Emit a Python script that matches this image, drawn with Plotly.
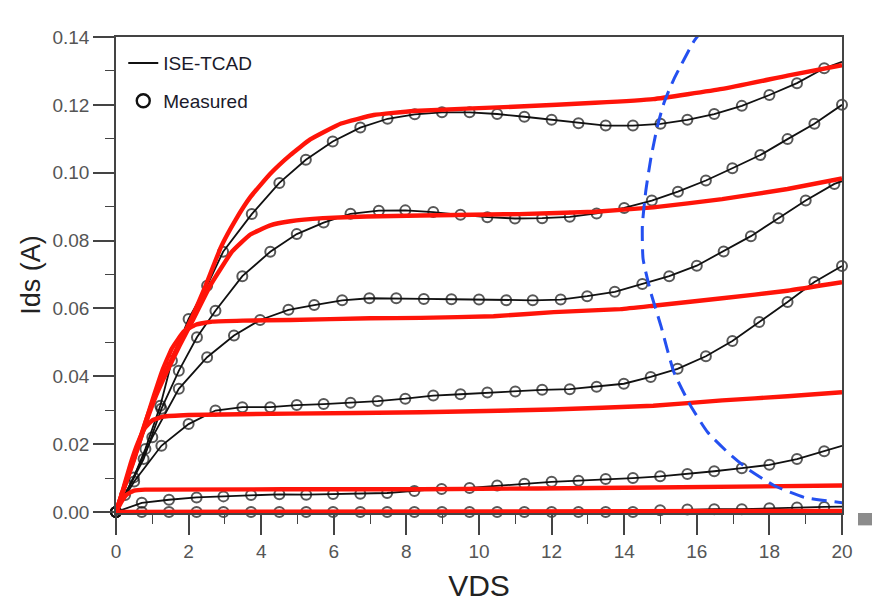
import plotly.graph_objects as go

# ---------------- data ----------------
# Measured / ISE-TCAD curves (black line + open circles)
m1_x = [0, 0.49, 0.81, 1.22, 1.54, 2.0, 2.51, 2.95, 3.74, 4.5, 5.23, 5.97, 6.73, 7.48, 8.23,
        8.98, 9.74, 10.5, 11.25, 12.0, 12.74, 13.49, 14.24, 15.0, 15.74, 16.48, 17.24, 18.0,
        18.76, 19.51, 20.0]
m1_y = [0, 0.0102, 0.0186, 0.0313, 0.0446, 0.0569, 0.0667, 0.0767, 0.0878, 0.097, 0.1038,
        0.1092, 0.1133, 0.1159, 0.1172, 0.1178, 0.1178, 0.1173, 0.1165, 0.1156, 0.1146, 0.1139,
        0.1139, 0.1144, 0.1156, 0.1173, 0.1197, 0.1229, 0.1264, 0.1308, 0.1327]

m2_x = [0, 0.76, 1.25, 1.73, 2.23, 2.74, 3.48, 4.25, 4.98, 5.72, 6.46, 7.24, 7.97, 8.74, 9.49,
        10.23, 10.99, 11.74, 12.5, 13.24, 14.0, 14.76, 15.48, 16.25, 16.98, 17.75, 18.5, 19.24, 20.0]
m2_y = [0, 0.0156, 0.0304, 0.0416, 0.0515, 0.0593, 0.0695, 0.0767, 0.0819, 0.0853, 0.0879,
        0.0888, 0.0889, 0.0884, 0.0876, 0.0869, 0.0865, 0.0866, 0.087, 0.088, 0.0896, 0.0918,
        0.0944, 0.0977, 0.1013, 0.1052, 0.1099, 0.1144, 0.1200]

m3_x = [0, 0.25, 1.0, 1.73, 2.51, 3.25, 3.97, 4.75, 5.46, 6.23, 6.98, 7.72, 8.48, 9.24, 10.0,
        10.75, 11.48, 12.25, 12.98, 13.74, 14.5, 15.24, 16.0, 16.74, 17.49, 18.25, 19.0, 19.79, 20.0]
m3_y = [0, 0.005, 0.022, 0.0363, 0.0456, 0.052, 0.0566, 0.0596, 0.061, 0.0624, 0.063, 0.063,
        0.0628, 0.0627, 0.0626, 0.0624, 0.0624, 0.0626, 0.0636, 0.0649, 0.0672, 0.0695, 0.0726,
        0.0768, 0.0813, 0.0866, 0.0918, 0.0967, 0.0975]

m4_x = [0, 0.5, 1.25, 2.0, 2.74, 3.48, 4.25, 4.98, 5.72, 6.46, 7.21, 7.97, 8.74, 9.49, 10.23,
        11.0, 11.74, 12.5, 13.24, 13.99, 14.73, 15.47, 16.25, 16.98, 17.72, 18.5, 19.24, 20.0]
m4_y = [0, 0.009, 0.0195, 0.0259, 0.0299, 0.0309, 0.0309, 0.0315, 0.0318, 0.0322, 0.0327,
        0.0334, 0.0343, 0.0347, 0.0352, 0.0355, 0.036, 0.0362, 0.0369, 0.0378, 0.0398, 0.0422,
        0.0459, 0.0504, 0.056, 0.0619, 0.0678, 0.0725]

m5_x = [0, 0.71, 1.46, 2.22, 2.96, 3.72, 4.5, 5.24, 5.98, 6.73, 7.47, 8.22, 8.97, 9.74, 10.5,
        11.25, 12.0, 12.74, 13.49, 14.24, 14.99, 15.74, 16.48, 17.24, 18.0, 18.76, 19.51, 20.0]
m5_y = [0, 0.0027, 0.0036, 0.0043, 0.0046, 0.005, 0.0052, 0.0051, 0.0053, 0.0054, 0.0056,
        0.0062, 0.0068, 0.0071, 0.0078, 0.0083, 0.0089, 0.0092, 0.0097, 0.01, 0.0105, 0.0112,
        0.012, 0.0129, 0.0139, 0.0156, 0.0179, 0.0195]

m6_x = [0, 0.71, 1.46, 2.22, 2.96, 3.72, 4.5, 5.24, 5.98, 6.73, 7.47, 8.22, 8.98, 9.74, 10.5,
        11.25, 12.0, 12.74, 13.49, 14.24, 14.99, 15.74, 16.48, 17.24, 18.0, 18.76, 19.51, 20.0]
m6_y = [0, 0, 0, 0, 0, 0, 0, 0, 0, 0, 0, 0, 0, 0, 0, 0, 0, 0, 0, 0, 0.0005, 0.0007, 0.0008,
        0.0008, 0.0011, 0.0013, 0.0015, 0.0016]

# red curves
r1_x = [0, 0.25, 0.5, 0.8, 1.1, 1.4, 1.75, 2.1, 2.45, 2.9, 3.3, 3.7, 4.25, 4.8, 5.35, 6.2, 7.1,
        8.2, 11.1, 13.2, 14.8, 16.7, 18.5, 20.0]
r1_y = [0, 0.0082, 0.0162, 0.0262, 0.0348, 0.042, 0.0498, 0.0575, 0.0662, 0.0783, 0.0862,
        0.0928, 0.0997, 0.1052, 0.1098, 0.1145, 0.1170, 0.1182, 0.1195, 0.1206, 0.1217, 0.1247,
        0.1286, 0.1317]

r2_x = [0, 0.25, 0.5, 0.8, 1.1, 1.4, 1.75, 2.1, 2.6, 3.2, 3.7, 4.25, 4.8, 5.7, 6.9, 8.4, 10.3,
        11.1, 13.2, 14.8, 16.7, 18.5, 20.0]
r2_y = [0, 0.008, 0.0158, 0.0255, 0.0342, 0.0413, 0.049, 0.0562, 0.0668, 0.0768, 0.0818, 0.0845,
        0.0857, 0.0866, 0.0871, 0.0874, 0.0877, 0.0878, 0.0885, 0.0898, 0.0922, 0.0952, 0.0983]

r3_x = [0, 0.25, 0.5, 0.8, 1.05, 1.27, 1.54, 1.87, 2.2, 2.65, 3.5, 4.8, 7.0, 8.4, 10.4, 12.06,
        13.9, 14.8, 16.7, 18.5, 20.0]
r3_y = [0, 0.0078, 0.0155, 0.026, 0.0345, 0.0415, 0.0482, 0.0532, 0.0552, 0.0561, 0.0564, 0.0566,
        0.0571, 0.0572, 0.0577, 0.0589, 0.0598, 0.0608, 0.063, 0.0652, 0.0677]

r4_x = [0, 0.2, 0.4, 0.6, 0.8, 1.0, 1.3, 2.0, 4.8, 8.4, 12.0, 14.8, 16.7, 18.5, 20.0]
r4_y = [0, 0.0068, 0.0142, 0.0203, 0.0248, 0.027, 0.0281, 0.0286, 0.029, 0.0294, 0.0302,
        0.0313, 0.0329, 0.0341, 0.0353]

r5_x = [0, 0.15, 0.3, 0.5, 0.8, 8.4, 14.8, 20.0]
r5_y = [0, 0.003, 0.0052, 0.0063, 0.0066, 0.0067, 0.0072, 0.0078]

r6_x = [0, 20.0]
r6_y = [0, 0.0003]

# blue dashed boundary
b_x = [16.14, 15.93, 15.37, 15.10, 14.92, 14.73, 14.59, 14.50, 14.52, 14.73, 15.01, 15.37,
       15.83, 16.30, 16.85, 17.40, 18.13, 18.96, 20.25]
b_y = [0.1418, 0.1389, 0.1276, 0.1207, 0.1139, 0.104, 0.0942, 0.0844, 0.0746, 0.0648, 0.0549,
       0.0412, 0.0313, 0.0235, 0.0176, 0.0127, 0.0078, 0.0043, 0.0024]

x_ticks = [0, 2, 4, 6, 8, 10, 12, 14, 16, 18, 20]
y_ticks = [0.00, 0.02, 0.04, 0.06, 0.08, 0.10, 0.12, 0.14]
y_tick_text = ["0.00", "0.02", "0.04", "0.06", "0.08", "0.10", "0.12", "0.14"]

legend_line_name = "ISE-TCAD"
legend_marker_name = "Measured"

# ---------------- figure ----------------
fig = go.Figure()

measured = [(m1_x, m1_y, False), (m2_x, m2_y, True), (m3_x, m3_y, False),
            (m4_x, m4_y, True), (m5_x, m5_y, False), (m6_x, m6_y, False)]
for mx, my, end_circle in measured:
    sizes = [10] * len(mx)
    if not end_circle:
        sizes[-1] = 0
    fig.add_trace(go.Scatter(
        x=mx, y=my, mode="lines+markers", showlegend=False, cliponaxis=False,
        line=dict(color="#111111", width=1.8),
        marker=dict(symbol="circle-open", size=sizes, color="#111111",
                    line=dict(width=2.0, color="#111111")),
        hoverinfo="skip"))

red = [(r1_x, r1_y), (r2_x, r2_y), (r3_x, r3_y), (r4_x, r4_y), (r5_x, r5_y), (r6_x, r6_y)]
for rx, ry in red:
    fig.add_trace(go.Scatter(
        x=rx, y=ry, mode="lines", showlegend=False,
        line=dict(color="#ff1409", width=4.4, shape="spline", smoothing=0.35),
        hoverinfo="skip"))

fig.add_trace(go.Scatter(
    x=b_x, y=b_y, mode="lines", showlegend=False,
    line=dict(color="#2450f0", width=3.0, dash="15px,8px", shape="spline", smoothing=0.5),
    hoverinfo="skip"))

# legend entries
fig.add_trace(go.Scatter(
    x=[None], y=[None], mode="lines", name=legend_line_name, legendgroup="a",
    line=dict(color="#111111", width=2.2)))
fig.add_trace(go.Scatter(
    x=[None], y=[None], mode="markers", name=legend_marker_name, legendgroup="b",
    marker=dict(symbol="circle-open", size=13, color="#111111",
                line=dict(width=2.4, color="#111111"))))

axis_common = dict(
    showline=True, mirror=True, linecolor="#444444", linewidth=1.5,
    ticks="outside", tickcolor="#444444", tickwidth=1.5,
    showgrid=False, zeroline=False,
    tickfont=dict(family="Liberation Sans, Arial, sans-serif", size=19, color="#555555"),
)

fig.update_layout(
    width=880, height=608,
    margin=dict(l=108, r=46, t=29, b=103),
    paper_bgcolor="white", plot_bgcolor="white",
    font=dict(family="Liberation Sans, Arial, sans-serif", color="#222222"),
    xaxis=dict(range=[0, 20], tickvals=x_ticks, ticklen=20,
               minor=dict(dtick=1, ticklen=9, ticks="outside", tickcolor="#444444", tickwidth=1.3),
               title=dict(text="VDS", font=dict(size=30, color="#222222"), standoff=14),
               **axis_common),
    yaxis=dict(range=[-0.0003, 0.14], tickvals=y_ticks, ticktext=y_tick_text, ticklen=21,
               minor=dict(tickvals=[0.01, 0.03, 0.05, 0.07, 0.09, 0.11, 0.13], ticklen=9,
                          ticks="outside", tickcolor="#444444", tickwidth=1.3),
               title=dict(text="Ids (A)", font=dict(size=27, color="#222222"), standoff=4),
               **axis_common),
    legend=dict(x=0.01, y=0.985, xanchor="left", yanchor="top",
                bgcolor="rgba(0,0,0,0)", font=dict(size=19, color="#1a1a2a"),
                traceorder="grouped", tracegroupgap=10, itemwidth=30),
    showlegend=True,
    shapes=[dict(type="rect", xref="paper", yref="paper", x0=1.022, x1=1.05, y0=-0.026, y1=0,
                 line=dict(width=0), fillcolor="#8c8c8c")],
)

fig.write_html("out.html")
